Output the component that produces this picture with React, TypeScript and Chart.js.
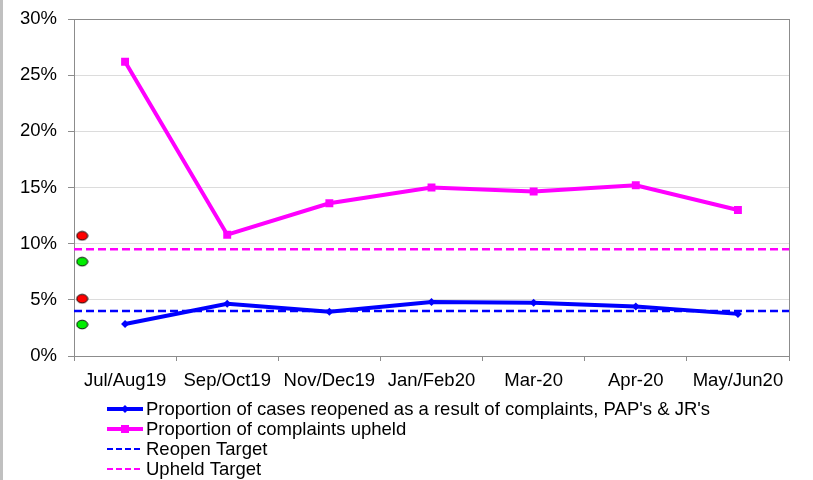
import React, { useEffect, useRef } from "react";
import { Chart, registerables } from "chart.js";
Chart.register(...registerables);

const categories = ["Jul/Aug19", "Sep/Oct19", "Nov/Dec19", "Jan/Feb20", "Mar-20", "Apr-20", "May/Jun20"];
const reopenedPct = [2.85, 4.65, 3.95, 4.8, 4.75, 4.4, 3.75];
const upheldPct = [26.2, 10.8, 13.6, 15.0, 14.65, 15.2, 13.0];
const reopenTarget = 4;
const upheldTarget = 9.5;
const ragValues = [10.7, 8.4, 5.1, 2.8];
const ragColors = ["#ff0000", "#00ee00", "#ff0000", "#00ee00"];
const ragX = -0.42;
const yMin = 0;
const yMax = 30;
const yStep = 5;
const seriesLabels = [
  "Proportion of cases reopened as a result of complaints, PAP's & JR's",
  "Proportion of complaints upheld",
  "Reopen Target",
  "Upheld Target",
];

const FONT = "'Liberation Sans', Arial, sans-serif";
const BLUE = "#0000ff";
const MAGENTA = "#ff00ff";

function ellipseImage(color: string) {
  const c = document.createElement("canvas");
  c.width = 13;
  c.height = 11;
  const ctx = c.getContext("2d")!;
  ctx.beginPath();
  ctx.ellipse(6.5, 5.5, 5.5, 4.3, 0, 0, Math.PI * 2);
  ctx.fillStyle = color;
  ctx.fill();
  ctx.lineWidth = 1;
  ctx.strokeStyle = "#000";
  ctx.stroke();
  return c;
}

const framePlugin = {
  id: "frame",
  beforeDatasetsDraw(chart: any) {
    const { ctx, chartArea } = chart;
    ctx.save();
    ctx.strokeStyle = "#8c8c8c";
    ctx.lineWidth = 1;
    ctx.strokeRect(Math.round(chartArea.left) + 0.5, Math.round(chartArea.top) + 0.5, Math.round(chartArea.right - chartArea.left), Math.round(chartArea.bottom - chartArea.top));
    ctx.restore();
  },
};

const legendPlugin = {
  id: "customLegend",
  afterDraw(chart: any) {
    const { ctx, chartArea } = chart;
    const x0 = chartArea.left + 33;
    const x1 = x0 + 36;
    const tx = x1 + 3;
    const y0 = chartArea.bottom + 53;
    ctx.save();
    ctx.font = `18.5px ${FONT}`;
    ctx.textBaseline = "middle";
    ctx.fillStyle = "#000";
    seriesLabels.forEach((label, i) => {
      const y = y0 + i * 20;
      const color = i % 2 === 0 ? BLUE : MAGENTA;
      ctx.strokeStyle = color;
      ctx.fillStyle = color;
      if (i < 2) {
        ctx.setLineDash([]);
        ctx.lineWidth = 4;
        ctx.beginPath();
        ctx.moveTo(x0, y);
        ctx.lineTo(x1, y);
        ctx.stroke();
        const cx = (x0 + x1) / 2;
        if (i === 0) {
          ctx.beginPath();
          ctx.moveTo(cx, y - 4);
          ctx.lineTo(cx + 4, y);
          ctx.lineTo(cx, y + 4);
          ctx.lineTo(cx - 4, y);
          ctx.closePath();
          ctx.fill();
        } else {
          ctx.fillRect(cx - 4, y - 4, 8, 8);
        }
      } else {
        ctx.setLineDash([6, 3]);
        ctx.lineWidth = 2;
        ctx.beginPath();
        ctx.moveTo(x0, y);
        ctx.lineTo(x1, y);
        ctx.stroke();
        ctx.setLineDash([]);
      }
      ctx.fillStyle = "#000";
      ctx.fillText(label, tx, y + 1);
    });
    ctx.restore();
  },
};

export default function App() {
  const ref = useRef<HTMLCanvasElement | null>(null);
  useEffect(() => {
    if (!ref.current) return;
    const chart = new Chart(ref.current, {
      type: "line",
      data: {
        labels: categories,
        datasets: [
          {
            label: seriesLabels[0],
            data: reopenedPct,
            borderColor: BLUE,
            backgroundColor: BLUE,
            borderWidth: 4,
            pointStyle: "rectRot",
            pointRadius: 4,
            pointBorderWidth: 0,
            xAxisID: "x",
            order: 1,
          },
          {
            label: seriesLabels[1],
            data: upheldPct,
            borderColor: MAGENTA,
            backgroundColor: MAGENTA,
            borderWidth: 4,
            pointStyle: "rect",
            pointRadius: 5.6,
            pointBorderWidth: 0,
            xAxisID: "x",
            order: 2,
          },
          {
            label: seriesLabels[2],
            data: [{ x: -0.5, y: reopenTarget }, { x: 6.5, y: reopenTarget }] as any,
            borderColor: BLUE,
            borderWidth: 2.5,
            borderDash: [8, 4],
            pointRadius: 0,
            xAxisID: "x2",
            order: 3,
          },
          {
            label: seriesLabels[3],
            data: [{ x: -0.5, y: upheldTarget }, { x: 6.5, y: upheldTarget }] as any,
            borderColor: MAGENTA,
            borderWidth: 2.5,
            borderDash: [8, 4],
            pointRadius: 0,
            xAxisID: "x2",
            order: 4,
          },
          {
            label: "RAG",
            data: ragValues.map((v) => ({ x: ragX, y: v })) as any,
            showLine: false,
            pointStyle: ragColors.map((c) => ellipseImage(c)) as any,
            pointRadius: 5,
            xAxisID: "x2",
            order: 0,
          },
        ],
      },
      options: {
        responsive: false,
        animation: false,
        events: [],
        font: { family: FONT },
        layout: { padding: { top: 19, right: 24, bottom: 84, left: 0 } },
        plugins: {
          legend: { display: false },
          tooltip: { enabled: false },
          title: { display: false },
        },
        scales: {
          x: {
            type: "category",
            offset: true,
            grid: { offset: true, drawOnChartArea: false, tickLength: 5, color: "#8c8c8c" },
            border: { color: "#8c8c8c" },
            ticks: { color: "#000", font: { family: FONT, size: 18.5 }, padding: 9, maxRotation: 0, autoSkip: false },
            afterFit(scale: any) {
              scale.height = 40;
              scale.paddingLeft = 0;
              scale.paddingRight = 0;
            },
          },
          x2: {
            type: "linear",
            display: false,
            min: -0.5,
            max: 6.5,
          },
          y: {
            min: yMin,
            max: yMax,
            grid: { color: "#dcdcdc", tickColor: "#8c8c8c", tickLength: 6 },
            border: { color: "#8c8c8c" },
            ticks: {
              stepSize: yStep,
              color: "#000",
              font: { family: FONT, size: 18.5 },
              padding: 11,
              callback: (v: any) => `${v}%`,
            },
            afterFit(scale: any) {
              scale.width = 74;
              scale.paddingTop = 0;
              scale.paddingBottom = 0;
            },
          },
        },
      },
      plugins: [framePlugin, legendPlugin],
    });
    return () => chart.destroy();
  }, []);
  return (
    <div style={{ position: "fixed", left: 0, top: 0, width: 813, height: 480, background: "#fff" }}>
      <canvas ref={ref} width={813} height={480} style={{ display: "block" }} />
      <div style={{ position: "absolute", left: 0, top: 0, width: 3, height: 480, background: "#c0c0c0" }} />
    </div>
  );
}
